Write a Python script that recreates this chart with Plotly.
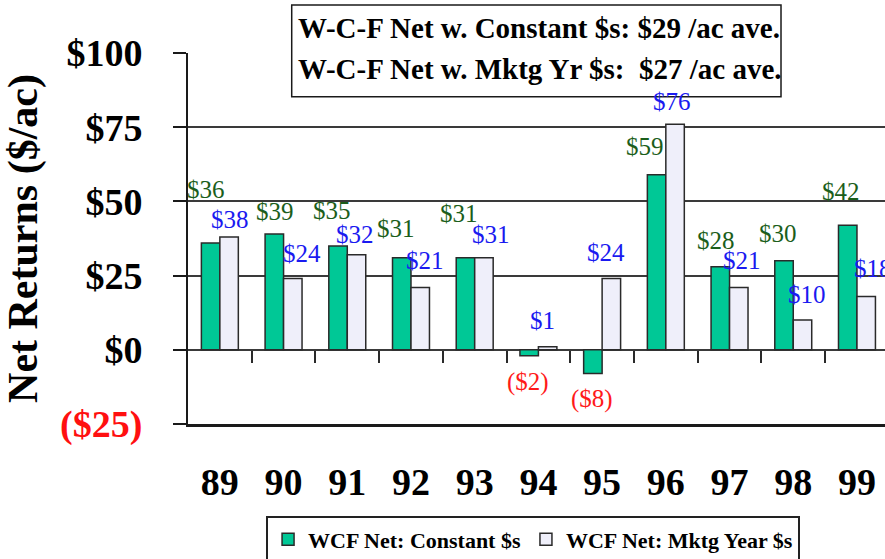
import plotly.graph_objects as go

# ---------------- data ----------------
years = ["89", "90", "91", "92", "93", "94", "95", "96", "97", "98", "99"]
constant_net = [36, 39, 35, 31, 31, -2, -8, 59, 28, 30, 42]
mktg_net = [38, 24, 32, 21, 31, 1, 24, 76, 21, 10, 18]
y_ticks = [-25, 0, 25, 50, 75, 100]
y_tick_labels = ["<span style='color:#ff1010'>($25)</span>", "$0", "$25", "$50", "$75", "$100"]
ave_constant = 29
ave_mktg = 27

# ---------------- styles ----------------
FONT = "Liberation Serif, Times New Roman, serif"
GREEN = "#00C896"
LIGHT = "#EFEFFA"
LBL_GREEN = "#1B5E1B"
LBL_BLUE = "#1A1AF0"
LBL_RED = "#FF1A1A"
# label pixel offsets (manual label placement as in the original)
g_dx = [-14, -9, -15, -15, -16, -10, -10, -21, -14, -15, -16]
g_dy = [53, 23, 35, 29, 44, -26, -25, 28, 26, 27, 34]
w_dx = [10, 18, 8, 14, 16, 4, 4, 6, 12, 14, 16]
w_dy = [18, 25, 20, 27, 23, 26, 26, 23, 27, 26, 28]

xs = list(range(len(years)))


def money(v):
    return f"${v}" if v >= 0 else f"(${-v})"


fig = go.Figure()
fig.add_trace(go.Bar(
    x=xs, y=constant_net, name="WCF Net: Constant $s",
    marker=dict(color=GREEN, line=dict(color="#2a2a2a", width=1.5)),
))
fig.add_trace(go.Bar(
    x=xs, y=mktg_net, name="WCF Net: Mktg Year $s",
    marker=dict(color=LIGHT, line=dict(color="#2a2a2a", width=1.5)),
))
# dummy trace to host the zero-line category ticks axis
fig.add_trace(go.Scatter(x=[None], y=[None], xaxis="x2", showlegend=False,
                         hoverinfo="skip"))

annotations = []
for i, v in enumerate(constant_net):
    annotations.append(dict(
        x=xs[i], y=v, xref="x", yref="y", text=money(v), showarrow=False,
        xshift=g_dx[i], yshift=g_dy[i], xanchor="center", yanchor="middle",
        font=dict(family=FONT, size=25, color=LBL_GREEN if v >= 0 else LBL_RED),
    ))
for i, v in enumerate(mktg_net):
    annotations.append(dict(
        x=xs[i], y=v, xref="x", yref="y", text=money(v), showarrow=False,
        xshift=w_dx[i], yshift=w_dy[i], xanchor="center", yanchor="middle",
        font=dict(family=FONT, size=25, color=LBL_BLUE if v >= 0 else LBL_RED),
    ))
annotations.append(dict(
    x=0.155, y=1.067, xref="paper", yref="paper", xanchor="left", yanchor="middle",
    text=f"<b>W-C-F Net w. Constant $s: ${ave_constant} /ac ave.</b>", showarrow=False,
    font=dict(family=FONT, size=29, color="black"),
))
annotations.append(dict(
    x=0.155, y=0.957, xref="paper", yref="paper", xanchor="left", yanchor="middle",
    text=f"<b>W-C-F Net w. Mktg Yr $s:\u00a0 ${ave_mktg} /ac ave.</b>", showarrow=False,
    font=dict(family=FONT, size=29, color="black"),
))

xrange = [-0.5, 10.44]

fig.update_layout(
    width=885, height=559,
    margin=dict(l=188, r=0, t=53, b=135, autoexpand=False),
    paper_bgcolor="white", plot_bgcolor="white",
    font=dict(family=FONT, color="black"),
    barmode="group", bargap=0.42, bargroupgap=0,
    showlegend=True,
    legend=dict(
        orientation="h", x=0.112, y=-0.249, xanchor="left", yanchor="top",
        bordercolor="#222", borderwidth=2, bgcolor="white",
        font=dict(family=FONT, size=22, color="black", weight="bold"),
        itemwidth=30, tracegroupgap=0,
    ),
    xaxis=dict(
        range=xrange, tickmode="array", tickvals=xs, ticktext=years,
        showgrid=False, zeroline=False, ticks="",
        showline=True, linecolor="#1a1a1a", linewidth=3,
        tickfont=dict(family=FONT, size=38, color="black", weight="bold"),
        ticklabelstandoff=22, automargin=False, fixedrange=True,
    ),
    xaxis2=dict(
        overlaying="x", anchor="free", position=0.2, side="bottom",
        range=xrange, tickmode="array",
        tickvals=[i + 0.5 for i in xs[:-1]],
        ticks="outside", ticklen=12, tickwidth=1.5, tickcolor="#2a2a2a",
        showticklabels=False, showgrid=False, zeroline=False, showline=False,
        automargin=False,
    ),
    yaxis=dict(
        range=[-25, 100], tickmode="array", tickvals=y_ticks, ticktext=y_tick_labels,
        showgrid=True, gridcolor="#3a3a3a", gridwidth=1.5,
        zeroline=True, zerolinecolor="#3a3a3a", zerolinewidth=1.5,
        showline=True, linecolor="#1a1a1a", linewidth=2,
        ticks="outside", ticklen=13, tickwidth=1.5, tickcolor="#1a1a1a",
        tickfont=dict(family=FONT, size=38, color="black", weight="bold"),
        ticklabelstandoff=23, automargin=False,
        title=dict(text="Net Returns ($/ac)", standoff=16,
                   font=dict(family=FONT, size=42, color="black", weight="bold")),
    ),
    shapes=[dict(
        type="rect", xref="paper", yref="paper",
        x0=0.1488, x1=0.8508, y0=0.8822, y1=1.1294,
        fillcolor="white", line=dict(color="#1a1a1a", width=1.5), layer="above",
    )],
    annotations=annotations,
)

fig.write_html(
    "out.html",
    config={"displayModeBar": False},
    post_script="document.body.style.margin='0';document.body.style.overflow='hidden';",
)
